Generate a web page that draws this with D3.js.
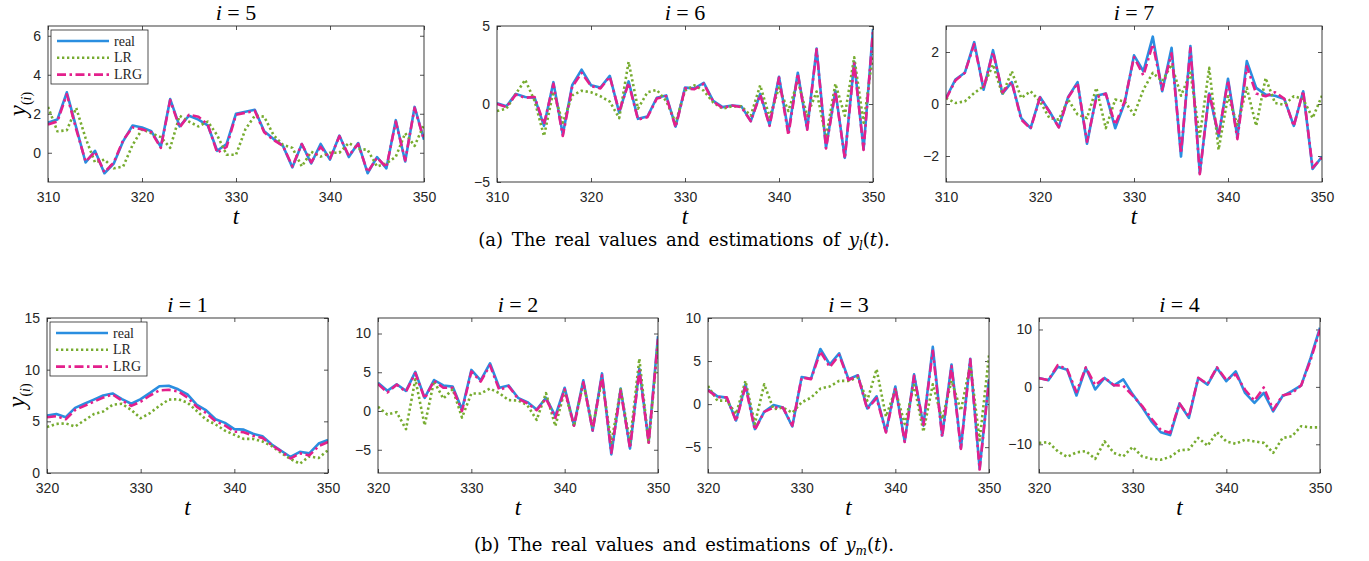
<!DOCTYPE html>
<html>
<head>
<meta charset="utf-8">
<script src="https://cdn.jsdelivr.net/npm/d3@7"></script>
<style>
  body { margin: 0; background: #fff; }
  svg { display: block; }
</style>
</head>
<body>
<div id="vis"></div>
<script>
// time axis of each row
var tTop = d3.range(310, 351);
var tBottom = d3.range(320, 351);

var xTicksTop = [310, 320, 330, 340, 350];
var xTicksBottom = [320, 330, 340, 350];

// y_l(t): i = 5, 6, 7
var real5 = [1.55, 1.7, 3.1, 1.3, -0.5, 0.1, -1.05, -0.55, 0.6, 1.4, 1.3, 1.1, 0.3, 2.75, 1.35, 1.9, 1.7, 1.4, 0.1, 0.45, 2.0, 2.1, 2.2, 1.1, 0.7, 0.35, -0.75, 0.45, -0.55, 0.45, -0.35, 0.88, -0.22, 0.5, -1.05, -0.22, -0.8, 1.67, -0.45, 2.35, 0.67];
var lr5 = [2.35, 1.1, 1.15, 2.3, 0.75, -0.5, -0.35, -0.8, -0.7, 0.4, 1.2, 1.0, 0.8, 0.25, 1.9, 1.6, 1.35, 1.6, 0.9, -0.1, -0.1, 1.2, 1.9, 1.85, 0.9, 0.4, 0.25, -0.7, 0.05, -0.2, 0.0, 0.0, 0.5, 0.2, 0.15, -0.7, -0.55, -0.2, 1.0, 0.35, 1.45];
var lrg5 = [1.45, 1.6, 3.0, 1.2, -0.45, 0.05, -1.0, -0.5, 0.65, 1.3, 1.2, 1.05, 0.25, 2.7, 1.3, 1.95, 1.85, 1.45, 0.0, 0.3, 1.95, 2.05, 2.15, 1.05, 0.65, 0.35, -0.7, 0.45, -0.5, 0.3, -0.3, 0.85, -0.15, 0.45, -1.0, -0.25, -0.75, 1.6, -0.4, 2.3, 0.65];

var real6 = [0.05, -0.15, 0.65, 0.45, 0.4, -1.4, 1.4, -1.95, 1.2, 2.2, 1.2, 1.05, 1.8, -0.55, 1.45, -0.95, -0.8, 0.4, 0.55, -1.45, 1.05, 1.0, 1.35, 0.2, -0.2, -0.1, -0.15, -1.1, 0.65, -1.35, 1.75, -1.8, 2.0, -1.6, 3.55, -2.8, 0.85, -3.45, 2.7, -2.9, 4.8];
var lr6 = [-0.45, -0.3, 0.65, 1.55, 0.2, -2.05, 0.8, -1.2, 0.55, 0.85, 0.75, 0.5, 0.15, -0.9, 2.7, -0.3, 0.75, 0.9, 0.2, -1.2, 0.85, 1.2, 0.85, 0.1, -0.3, -0.15, -0.15, -0.75, 1.2, -0.85, 1.05, -0.45, 1.5, -0.75, 0.8, -2.15, 1.3, -0.75, 3.0, -1.2, 3.2];
var lrg6 = [0.0, -0.2, 0.6, 0.4, 0.45, -1.3, 1.3, -2.05, 1.1, 2.0, 1.15, 1.0, 1.75, -0.5, 1.35, -1.0, -0.85, 0.35, 0.5, -1.5, 1.0, 0.95, 1.3, 0.15, -0.25, -0.1, -0.2, -1.1, 0.6, -1.4, 1.7, -2.0, 1.95, -1.65, 3.5, -2.85, 0.8, -3.5, 2.6, -2.95, 4.7];

var real7 = [0.23, 0.94, 1.2, 2.38, 0.55, 2.07, 0.4, 0.84, -0.54, -0.93, 0.27, -0.28, -0.89, 0.27, 0.84, -1.53, 0.32, 0.4, -0.93, 0.04, 1.87, 1.26, 2.59, 0.49, 2.16, -2.02, 2.23, -2.66, 0.4, -1.25, 0.97, -1.27, 1.65, 0.62, 0.36, 0.32, 0.19, -0.84, 0.49, -2.5, -2.02];
var lr7 = [0.23, 0.04, 0.1, 0.42, 0.68, 1.52, 0.36, 1.26, 0.23, 0.49, 0.1, -0.54, -0.6, 0.17, -0.41, -0.54, 0.62, -0.93, 0.17, 0.1, -0.41, 0.55, 1.2, 0.87, 1.52, 0.32, 1.2, -1.25, 1.39, -1.76, 0.3, -0.8, 0.62, -0.84, 1.0, 0.04, -0.03, 0.3, 0.19, -0.54, 0.32];
var lrg7 = [0.2, 0.9, 1.2, 2.3, 0.6, 2.0, 0.45, 0.85, -0.6, -0.95, 0.25, -0.3, -0.9, 0.25, 0.8, -1.45, 0.25, 0.4, -0.8, 0.1, 1.8, 1.1, 2.3, 0.55, 1.95, -1.9, 2.15, -2.7, 0.45, -1.2, 0.9, -1.35, 1.45, 0.4, 0.3, 0.45, 0.2, -0.85, 0.5, -2.45, -2.05];

// y_m(t): i = 1, 2, 3, 4
var real1 = [5.55, 5.7, 5.4, 6.3, 6.7, 7.1, 7.5, 7.7, 7.15, 6.7, 7.15, 7.75, 8.4, 8.45, 8.1, 7.6, 6.6, 6.05, 5.2, 4.85, 4.25, 4.2, 3.8, 3.55, 2.75, 2.15, 1.55, 2.05, 1.9, 2.85, 3.2];
var lr1 = [4.45, 4.75, 4.8, 4.5, 5.1, 5.7, 5.95, 6.6, 6.7, 6.1, 5.3, 5.8, 6.5, 7.1, 7.15, 6.8, 6.0, 5.15, 4.7, 4.1, 3.7, 3.3, 3.3, 3.05, 2.6, 1.95, 1.35, 0.9, 1.6, 1.45, 2.2];
var lrg1 = [5.4, 5.5, 5.2, 6.1, 6.5, 6.9, 7.3, 7.6, 7.0, 6.5, 6.9, 7.5, 8.0, 8.05, 7.9, 7.3, 6.4, 5.8, 5.0, 4.6, 4.0, 3.95, 3.6, 3.4, 2.7, 2.1, 1.4, 1.9, 1.7, 2.6, 3.0];

var real2 = [3.65, 2.6, 3.45, 2.6, 5.05, 1.7, 4.0, 3.3, 3.15, 0.2, 5.3, 3.95, 6.15, 3.0, 3.3, 1.7, 1.15, 0.2, 1.7, -0.65, 3.0, -1.85, 3.95, -2.55, 4.85, -5.6, 2.9, -4.85, 5.45, -4.0, 9.65];
var lr2 = [0.55, -0.45, -0.15, -2.35, 4.1, -1.85, 3.85, 1.6, 2.8, -0.85, 2.25, 2.25, 2.9, 2.3, 1.4, 1.35, 0.75, -1.15, 2.3, -1.95, 2.6, -2.0, 3.65, -2.15, 4.1, -4.1, 2.8, -4.05, 6.75, -4.2, 8.8];
var lrg2 = [3.5, 2.4, 3.4, 2.5, 4.9, 1.6, 3.9, 3.0, 3.0, 0.0, 5.1, 3.8, 5.9, 2.7, 3.2, 1.6, 1.0, 0.1, 1.6, -0.9, 2.8, -1.9, 3.7, -2.5, 4.6, -5.4, 2.6, -4.8, 5.2, -4.1, 9.3];

var real3 = [1.7, 0.9, 0.75, -1.9, 2.3, -2.9, -0.9, -0.1, -0.4, -2.6, 3.15, 2.95, 6.4, 4.6, 5.9, 2.9, 3.35, -0.5, 0.9, -3.2, 2.05, -4.35, 3.45, -2.5, 6.65, -3.65, 4.6, -5.1, 5.25, -7.5, 2.9];
var lr3 = [2.1, 0.4, 0.4, -1.15, 2.7, -2.3, 2.3, -0.6, -0.4, -1.0, 0.2, 0.75, 1.8, 2.05, 2.7, 2.7, 3.1, 0.4, 4.05, -1.45, 1.65, -2.3, 2.2, -3.2, 2.3, -1.75, 2.7, -0.75, 4.6, -4.2, 5.65];
var lrg3 = [1.6, 0.8, 0.8, -2.0, 2.1, -3.0, -0.9, -0.4, -0.4, -2.5, 3.1, 2.9, 6.1, 4.3, 5.7, 2.8, 3.3, -0.6, 0.7, -3.3, 1.9, -4.4, 3.3, -2.4, 6.2, -3.8, 4.4, -5.2, 5.2, -7.6, 2.7];

var real4 = [1.55, 1.15, 3.5, 3.0, -1.5, 3.3, -0.45, 1.55, 0.25, 1.3, -1.3, -3.5, -6.0, -7.9, -8.4, -2.9, -5.4, 1.55, 0.4, 3.3, 1.0, 2.7, -1.05, -2.8, -1.05, -4.25, -1.6, -0.75, 0.25, 5.05, 10.3];
var lr4 = [-9.75, -9.65, -11.2, -12.2, -11.4, -11.2, -12.55, -9.5, -11.5, -12.1, -10.45, -12.1, -12.55, -12.7, -12.2, -11.05, -10.9, -8.9, -10.25, -7.9, -9.5, -9.9, -9.2, -9.5, -9.75, -11.5, -8.9, -8.6, -6.85, -7.05, -7.05];
var lrg4 = [1.5, 1.2, 3.8, 3.1, -0.9, 3.4, 0.3, 1.6, 0.3, 0.2, -1.5, -3.3, -5.5, -7.5, -8.0, -2.9, -5.2, 1.6, 0.5, 3.4, 1.2, 2.2, -0.5, -2.4, -0.1, -4.0, -1.5, -1.1, 0.3, 4.7, 10.0];

var yTicks5 = [0, 2, 4, 6];
var yTicks6 = [-5, 0, 5];
var yTicks7 = [-2, 0, 2];
var yTicks1 = [0, 5, 10, 15];
var yTicks2 = [-5, 0, 5, 10];
var yTicks3 = [-5, 0, 5, 10];
var yTicks4 = [-10, 0, 10];

var seriesNames = ["real", "LR", "LRG"];

var W = 1369, H = 561;
var INK = "#262626";
var SANS = "'Liberation Sans', Arial, sans-serif";
var SERIF = "'Liberation Serif', 'Times New Roman', serif";
var CAPSERIF = "'DejaVu Serif', serif";

var styles = {
    real: { color: "#2a8ee0", dash: null },
    LR:   { color: "#77ac30", dash: "2.3 2.7" },
    LRG:  { color: "#e3208c", dash: "9 3.5 2.5 3.5" }
};

var top0 = 26, top1 = 182, bot0 = 318, bot1 = 473;

var panels = [
    { i: 5, t: tTop, ys: [real5, lr5, lrg5], x0: 48,  x1: 424, y0: top0, y1: top1, dom: [-1.5, 6.5], yt: yTicks5, xt: xTicksTop, legend: true },
    { i: 6, t: tTop, ys: [real6, lr6, lrg6], x0: 497, x1: 873, y0: top0, y1: top1, dom: [-5, 5], yt: yTicks6, xt: xTicksTop },
    { i: 7, t: tTop, ys: [real7, lr7, lrg7], x0: 946, x1: 1322, y0: top0, y1: top1, dom: [-3, 3], yt: yTicks7, xt: xTicksTop },
    { i: 1, t: tBottom, ys: [real1, lr1, lrg1], x0: 47,  x1: 328, y0: bot0, y1: bot1, dom: [0, 15], yt: yTicks1, xt: xTicksBottom, legend: true },
    { i: 2, t: tBottom, ys: [real2, lr2, lrg2], x0: 378, x1: 658, y0: bot0, y1: bot1, dom: [-8, 12], yt: yTicks2, xt: xTicksBottom },
    { i: 3, t: tBottom, ys: [real3, lr3, lrg3], x0: 708, x1: 989, y0: bot0, y1: bot1, dom: [-8, 10], yt: yTicks3, xt: xTicksBottom },
    { i: 4, t: tBottom, ys: [real4, lr4, lrg4], x0: 1039, x1: 1320, y0: bot0, y1: bot1, dom: [-15, 12], yt: yTicks4, xt: xTicksBottom }
];

var svg = d3.select("#vis").append("svg")
    .attr("width", W)
    .attr("height", H);

panels.forEach(function(p, k) {
    var x = d3.scaleLinear().domain([p.t[0], p.t[p.t.length - 1]]).range([p.x0, p.x1]);
    var y = d3.scaleLinear().domain(p.dom).range([p.y1, p.y0]);
    var g = svg.append("g");

    g.append("clipPath").attr("id", "clip" + k)
        .append("rect")
        .attr("x", p.x0).attr("y", p.y0)
        .attr("width", p.x1 - p.x0).attr("height", p.y1 - p.y0);

    // axes, ticks pointing inward like matlab
    function styleAxis(sel) {
        sel.select(".domain").remove();
        sel.selectAll(".tick line").attr("stroke", INK).attr("stroke-width", 0.8);
        sel.selectAll("text").attr("fill", INK).style("font-family", SANS).style("font-size", "14px");
    }
    g.append("g").attr("transform", "translate(0," + p.y1 + ")")
        .call(d3.axisBottom(x).tickValues(p.xt).tickSize(-4).tickPadding(10).tickFormat(d3.format("d")))
        .call(styleAxis);
    g.append("g").attr("transform", "translate(0," + p.y0 + ")")
        .call(d3.axisTop(x).tickValues(p.xt).tickSize(-4).tickFormat(""))
        .call(styleAxis);
    g.append("g").attr("transform", "translate(" + p.x0 + ",0)")
        .call(d3.axisLeft(y).tickValues(p.yt).tickSize(-4).tickPadding(7).tickFormat(d3.format("d")))
        .call(styleAxis);
    g.append("g").attr("transform", "translate(" + p.x1 + ",0)")
        .call(d3.axisRight(y).tickValues(p.yt).tickSize(-4).tickFormat(""))
        .call(styleAxis);

    var line = d3.line()
        .x(function(d, j) { return x(p.t[j]); })
        .y(function(d) { return y(d); });

    p.ys.forEach(function(vals, s) {
        var st = styles[seriesNames[s]];
        g.append("path")
            .datum(vals)
            .attr("clip-path", "url(#clip" + k + ")")
            .attr("fill", "none")
            .attr("stroke", st.color)
            .attr("stroke-width", 2.6)
            .attr("stroke-linejoin", "round")
            .attr("stroke-dasharray", st.dash)
            .attr("d", line);
    });

    g.append("rect")
        .attr("x", p.x0).attr("y", p.y0)
        .attr("width", p.x1 - p.x0).attr("height", p.y1 - p.y0)
        .attr("fill", "none").attr("stroke", INK).attr("stroke-width", 0.9);

    // title  i = n
    var cx = (p.x0 + p.x1) / 2;
    var title = g.append("text")
        .attr("x", cx).attr("y", p.y0 - 6)
        .attr("text-anchor", "middle")
        .style("font-family", SERIF).style("font-size", "22px").attr("fill", "#000");
    title.append("tspan").style("font-style", "italic").text("i");
    title.append("tspan").text(" = " + p.i);

    // x label
    g.append("text")
        .attr("x", cx).attr("y", p.y1 + 42)
        .attr("text-anchor", "middle")
        .style("font-family", SERIF).style("font-size", "23px").style("font-style", "italic")
        .text("t");

    if (p.legend) {
        var lx = p.x0 + 3, ly = p.y0 + 4;
        g.append("rect")
            .attr("x", lx).attr("y", ly).attr("width", 97).attr("height", 54)
            .attr("fill", "#fff").attr("stroke", INK).attr("stroke-width", 0.8);
        seriesNames.forEach(function(name, s) {
            var yy = ly + 11 + s * 16.8;
            g.append("line")
                .attr("x1", lx + 6).attr("x2", lx + 58)
                .attr("y1", yy).attr("y2", yy)
                .attr("stroke", styles[name].color)
                .attr("stroke-width", 2.6)
                .attr("stroke-dasharray", styles[name].dash);
            g.append("text")
                .attr("x", lx + 63).attr("y", yy + 4.5)
                .style("font-family", SERIF).style("font-size", "14px")
                .attr("fill", INK)
                .text(name);
        });

        // y label  y_(i)
        var yl = g.append("text")
            .attr("transform", "translate(" + (p.x0 - 22) + "," + ((p.y0 + p.y1) / 2) + ") rotate(-90)")
            .attr("text-anchor", "middle")
            .style("font-family", SERIF).style("font-size", "25px");
        yl.append("tspan").style("font-style", "italic").text("y");
        var sub = yl.append("tspan").attr("dy", 5).style("font-size", "14px");
        sub.append("tspan").text("(");
        sub.append("tspan").style("font-style", "italic").text("i");
        sub.append("tspan").text(")");
    }
});

// captions
function caption(yPos, letter, sub) {
    var c = svg.append("text")
        .attr("x", 684).attr("y", yPos)
        .attr("text-anchor", "middle")
        .style("font-family", CAPSERIF).style("font-size", "18px")
        .style("word-spacing", "3px").attr("fill", "#000");
    c.append("tspan").text("(" + letter + ")  The real values and estimations of ");
    c.append("tspan").style("font-style", "italic").text("y");
    c.append("tspan").attr("dy", 4).style("font-size", "12px").style("font-style", "italic").text(sub);
    c.append("tspan").attr("dy", -4).text("(");
    c.append("tspan").style("font-style", "italic").text("t");
    c.append("tspan").text(").");
}
caption(246, "a", "l");
caption(551, "b", "m");
</script>
</body>
</html>
